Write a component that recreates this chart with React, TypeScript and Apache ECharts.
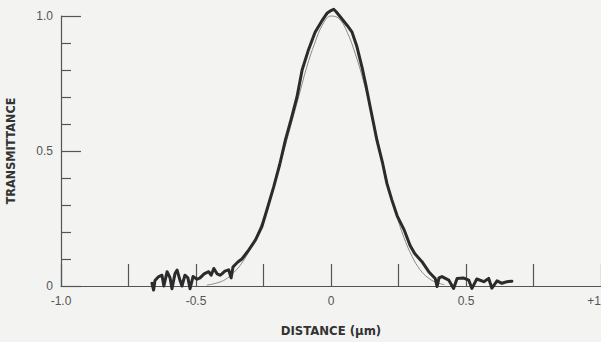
import React, { useEffect, useRef } from "react";
import * as echarts from "echarts";

// Measured trace: distance (µm) and transmittance
const measuredX = [
  -0.663, -0.657, -0.652, -0.638, -0.626, -0.619, -0.607, -0.596, -0.589, -0.578,
  -0.57, -0.559, -0.552, -0.541, -0.53, -0.522, -0.511, -0.496, -0.485, -0.47,
  -0.453, -0.444, -0.434, -0.422, -0.411, -0.404, -0.393, -0.379, -0.37, -0.363,
  -0.356, -0.344, -0.33, -0.305, -0.28, -0.256, -0.235, -0.212, -0.19, -0.169,
  -0.147, -0.126, -0.107, -0.085, -0.059, -0.035, -0.015, 0.0, 0.01, 0.02,
  0.04, 0.06, 0.078, 0.095, 0.115, 0.13, 0.145, 0.158, 0.17, 0.19,
  0.207, 0.225, 0.245, 0.27, 0.293, 0.31, 0.337, 0.362, 0.386, 0.393,
  0.4, 0.411, 0.436, 0.454, 0.467, 0.49, 0.51, 0.522, 0.54, 0.566,
  0.584, 0.596, 0.615, 0.633, 0.652, 0.67,
];
const measuredY = [
  0.01, -0.015, 0.02, 0.035, 0.04, 0.0, 0.053, 0.03, -0.01, 0.045,
  0.059, 0.02, 0.0, 0.04, 0.03, -0.01, 0.035, 0.025, 0.03, 0.045,
  0.053, 0.04, 0.065, 0.045, 0.04, 0.045, 0.055, 0.06, 0.03, 0.07,
  0.078, 0.09, 0.1, 0.133, 0.17, 0.22, 0.29, 0.368, 0.45, 0.54,
  0.62, 0.7, 0.8, 0.87, 0.94, 0.98, 1.01, 1.02, 1.025, 1.015,
  0.99, 0.965, 0.94, 0.89, 0.81, 0.74, 0.664, 0.6, 0.54, 0.46,
  0.38, 0.32, 0.26, 0.21, 0.15, 0.12, 0.09, 0.053, 0.028, -0.002,
  0.03, 0.035, 0.022, -0.009, 0.028, 0.03, 0.022, -0.009, 0.026, 0.016,
  0.028, -0.008, 0.019, 0.01, 0.016, 0.018,
];

// Calculated profile
const theoryX = [
  -0.46, -0.42, -0.39, -0.36, -0.33, -0.3, -0.27, -0.24, -0.21, -0.18,
  -0.15, -0.12, -0.09, -0.06, -0.03, 0.0, 0.03, 0.06, 0.09, 0.12,
  0.15, 0.18, 0.21, 0.24, 0.27, 0.3, 0.33, 0.36, 0.39, 0.42,
];
const theoryY = [
  0.003, 0.012, 0.025, 0.05, 0.085, 0.135, 0.2, 0.28, 0.37, 0.48,
  0.59, 0.7, 0.81, 0.9, 0.97, 1.0, 0.99, 0.94, 0.86, 0.76,
  0.64, 0.51, 0.38, 0.27, 0.18, 0.11, 0.06, 0.03, 0.013, 0.005,
];

const xLabels: Record<string, string> = {
  "-1": "-1.0",
  "-0.5": "-0.5",
  "0": "0",
  "0.5": "0.5",
  "1": "+1",
};
const yLabels: Record<string, string> = { "0": "0", "0.5": "0.5", "1": "1.0" };

const ink = "#2b2b2b";
const axisInk = "#555";

export default function App() {
  const ref = useRef<HTMLDivElement>(null);

  useEffect(() => {
    if (!ref.current) return;
    const chart = echarts.init(ref.current, undefined, { renderer: "svg" });
    const measured = measuredX.map((x, i) => [x, measuredY[i]]);
    const theory = theoryX.map((x, i) => [x, theoryY[i]]);
    chart.setOption({
      animation: false,
      backgroundColor: "#f3f3f2",
      grid: { left: 61, right: 0, top: 16, bottom: 56, outerBoundsMode: "none" },
      xAxis: {
        type: "value",
        min: -1,
        max: 1,
        interval: 0.25,
        name: "DISTANCE (μm)",
        nameLocation: "middle",
        nameGap: 38,
        nameTextStyle: {
          fontFamily: "DejaVu Sans Condensed",
          fontWeight: "bold",
          fontSize: 13,
          color: "#333",
        },
        axisLine: { onZero: false, lineStyle: { color: axisInk, width: 1.2 } },
        axisTick: { inside: true, length: 22, lineStyle: { color: axisInk, width: 1.2 } },
        splitLine: { show: false },
        axisLabel: {
          margin: 9,
          fontFamily: "Liberation Sans",
          fontSize: 12,
          color: "#555",
          showMaxLabel: true,
          alignMaxLabel: "right",
          formatter: (v: number) => xLabels[String(v)] ?? "",
        },
      },
      yAxis: {
        type: "value",
        min: 0,
        max: 1,
        interval: 0.5,
        name: "TRANSMITTANCE",
        nameLocation: "middle",
        nameGap: 44,
        nameRotate: 90,
        nameTextStyle: {
          fontFamily: "DejaVu Sans Condensed",
          fontWeight: "bold",
          fontSize: 12.5,
          color: "#333",
        },
        axisLine: { show: true, onZero: false, lineStyle: { color: axisInk, width: 1.2 } },
        axisTick: { show: true, inside: true, length: 20, lineStyle: { color: axisInk, width: 1.2 } },
        minorTick: { show: true, splitNumber: 5, length: 10, lineStyle: { color: axisInk, width: 1.2 } },
        splitLine: { show: false },
        minorSplitLine: { show: false },
        axisLabel: {
          margin: 8,
          fontFamily: "Liberation Sans",
          fontSize: 12,
          color: "#555",
          formatter: (v: number) => yLabels[String(v)] ?? "",
        },
      },
      series: [
        {
          type: "line",
          data: theory,
          smooth: 0.4,
          symbol: "none",
          clip: false,
          lineStyle: { color: "#8a8a8a", width: 1 },
          z: 2,
        },
        {
          type: "line",
          data: measured,
          symbol: "none",
          clip: false,
          lineStyle: { color: ink, width: 3, join: "round", cap: "round" },
          z: 3,
        },
      ],
    });
    return () => chart.dispose();
  }, []);

  return (
    <div
      ref={ref}
      style={{ position: "fixed", left: 0, top: 0, width: 601, height: 342 }}
    />
  );
}
